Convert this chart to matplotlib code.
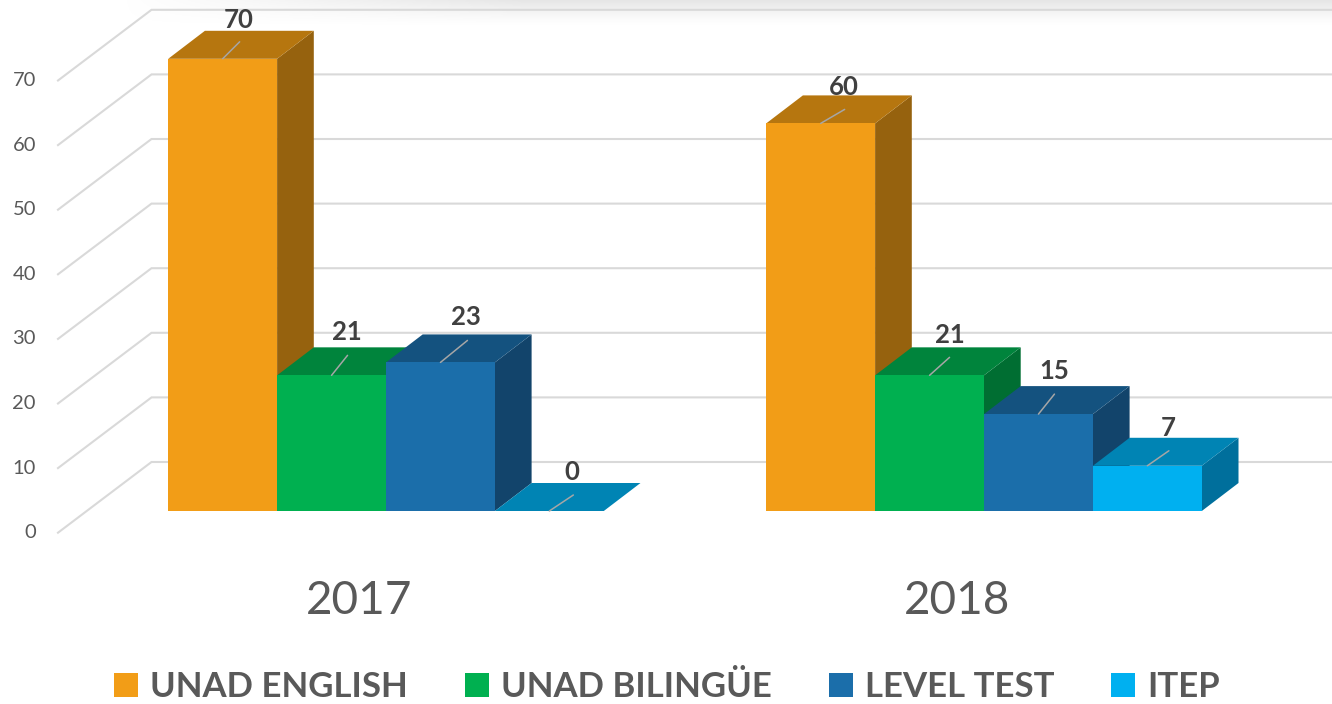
import numpy as np
import matplotlib
matplotlib.use("Agg")
import matplotlib.pyplot as plt
from matplotlib.patches import Polygon, Patch

plt.rcParams['font.family'] = ['Lato', 'DejaVu Sans']

# ---- data ----
years = ['2017', '2018']
series_names = ['UNAD ENGLISH', 'UNAD BILINGÜE', 'LEVEL TEST', 'ITEP']
unad_english = [70, 60]
unad_bilingue = [21, 21]
level_test = [23, 15]
itep = [0, 7]
y_ticks = [0, 10, 20, 30, 40, 50, 60, 70]

# ---- style ----
front_colors = ['#F29D17', '#00B050', '#1B6EAA', '#00B0F0']
top_colors = ['#B6760F', '#00843C', '#14527F', '#0084B4']
side_colors = ['#96620E', '#006E32', '#12446B', '#006F9C']
text_dark = '#404040'
text_grey = '#595959'
grid_color = '#D9D9D9'

W, H = 1332, 704
PX_X = 598.0      # pixels per category step
PX_Y = 6.46       # pixels per value unit
X0_PX, Y0_PX = 386.0, 511.0
BAR_W = 108.9 / PX_X
DEPTH_X = 36.7 / PX_X
DEPTH_Y = 28.0 / PX_Y

# per-bar label and leader offsets, in pixels (series, then year)
label_off = [[(16.5, 39), (23.5, 36)], [(15.5, 43), (20.5, 40)],
             [(25.5, 45), (16, 43)], [(22.5, 39), (20.5, 38)]]
leader_off = [[(17, 17), (24, 14)], [(16, 20), (20, 18)],
              [(27, 22), (16, 20)], [(24, 16), (21.5, 15)]]

fig = plt.figure(figsize=(W / 100, H / 100), dpi=100)
ax = fig.add_axes([0, 0, 1, 1])
ax.set_xlim(-X0_PX / PX_X, (W - X0_PX) / PX_X)
ax.set_ylim(-(H - Y0_PX) / PX_Y, Y0_PX / PX_Y)
ax.axis('off')

# soft shadow band at the top of the picture
grad = np.zeros((26, 200, 4))
grad[..., :3] = 0.78
fade_y = np.linspace(0.55, 0.0, 26)[:, None] ** 1.3
fade_x = np.clip(np.linspace(0, 3.0, 200), 0, 1)[None, :]
grad[..., 3] = fade_y * fade_x
ax.imshow(grad, extent=(ax.get_xlim()[0] + 120 / PX_X, ax.get_xlim()[1],
                        (Y0_PX - 26) / PX_Y, Y0_PX / PX_Y),
          aspect='auto', zorder=0, interpolation='bilinear')
ax.set_xlim(-X0_PX / PX_X, (W - X0_PX) / PX_X)
ax.set_ylim(-(H - Y0_PX) / PX_Y, Y0_PX / PX_Y)

# 3-D walls: gridlines along the back wall and the floor/side diagonals
wall_x = (151.5 - X0_PX) / PX_X
front_x = (58.0 - X0_PX) / PX_X
right_x = (W - X0_PX) / PX_X
back_dy = 49.0 / PX_Y
front_dy = -21.7 / PX_Y
for v in y_ticks:
    ax.plot([front_x, wall_x, right_x], [v + front_dy, v + back_dy, v + back_dy],
            color=grid_color, lw=1.5, zorder=1, solid_joinstyle='miter')
    ax.text((36 - X0_PX) / PX_X, v + front_dy, str(v), ha='right', va='center',
            fontsize=14.5, color=text_grey)

# 3-D bars
all_series = [unad_english, unad_bilingue, level_test, itep]
z = 3
for g, year in enumerate(years):
    left = g - 2 * BAR_W
    for s, values in enumerate(all_series):
        v = values[g]
        x0 = left + s * BAR_W
        x1 = x0 + BAR_W
        ax.add_patch(Polygon([(x1, 0), (x1 + DEPTH_X, DEPTH_Y),
                              (x1 + DEPTH_X, v + DEPTH_Y), (x1, v)],
                             closed=True, fc=side_colors[s], ec='none', zorder=z))
        ax.add_patch(Polygon([(x0, v), (x1, v), (x1 + DEPTH_X, v + DEPTH_Y),
                              (x0 + DEPTH_X, v + DEPTH_Y)],
                             closed=True, fc=top_colors[s], ec='none', zorder=z))
        ax.bar(x0, v, width=BAR_W, align='edge', color=front_colors[s],
               linewidth=0, zorder=z)
        z += 1

# leaders and value labels on top of the bars
for g in range(len(years)):
    left = g - 2 * BAR_W
    for s, values in enumerate(all_series):
        xc = left + (s + 0.5) * BAR_W
        v = values[g]
        ax.annotate('', xy=(xc, v), xytext=leader_off[s][g],
                    textcoords='offset pixels', zorder=50,
                    arrowprops=dict(arrowstyle='-', color='#A6A6A6', lw=1.1,
                                    shrinkA=0, shrinkB=0))
        ax.annotate(str(v), xy=(xc, v), xytext=label_off[s][g],
                    textcoords='offset pixels', ha='center', va='center',
                    fontsize=18.5, fontweight='bold', color=text_dark, zorder=51)

# category labels
for g, year in enumerate(years):
    ax.text(g - 27 / PX_X, (Y0_PX - 601) / PX_Y, year, ha='center', va='center',
            fontsize=33, color=text_grey)

# legend
handles = [Patch(fc=c, ec='none', label=n) for c, n in zip(front_colors, series_names)]
leg = ax.legend(handles=handles, ncols=4, frameon=False, prop=dict(size=25, weight='bold'),
                labelcolor=text_grey, loc='center left',
                bbox_to_anchor=(114 / W, 1 - 687 / H), borderpad=0, borderaxespad=0,
                handlelength=0.69, handleheight=0.69, handletextpad=0.34,
                columnspacing=1.65)
leg.set_zorder(60)

fig.savefig('out.png', dpi=100)
